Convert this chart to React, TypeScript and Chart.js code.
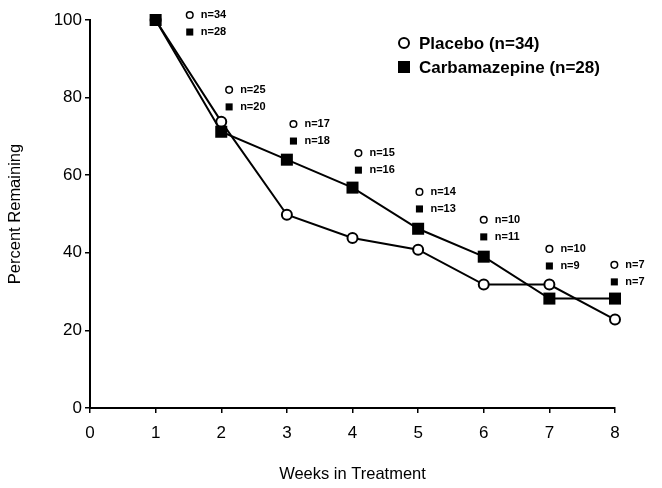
import React, { useEffect, useRef } from "react";
import { Chart, registerables } from "chart.js";

Chart.register(...registerables);

const weeks = [1, 2, 3, 4, 5, 6, 7, 8];
const placebo = [100, 73.8, 49.8, 43.8, 40.8, 31.8, 31.8, 22.8];
const carbamazepine = [100, 71.2, 64.0, 56.8, 46.2, 39.0, 28.2, 28.2];

// n= annotations per week
const placeboN = [34, 25, 17, 15, 14, 10, 10, 7];
const carbaN = [28, 20, 18, 16, 13, 11, 9, 7];
const annotX = [1.52, 2.12, 3.1, 4.09, 5.02, 6.0, 7.0, 7.99];
const annotCircleY = [101.3, 82.0, 73.2, 65.7, 55.7, 48.5, 41.0, 36.9];
const annotSquareY = [96.9, 77.6, 68.8, 61.3, 51.3, 44.1, 36.6, 32.5];

const xTicks = [0, 1, 2, 3, 4, 5, 6, 7, 8];
const yTicks = [0, 20, 40, 60, 80, 100];

const legendLabels = ["Placebo (n=34)", "Carbamazepine (n=28)"];

const FONT = "'Liberation Sans', Arial, Helvetica, sans-serif";

export default function App() {
  const ref = useRef<HTMLCanvasElement | null>(null);

  useEffect(() => {
    if (!ref.current) return;

    const annotPlugin = {
      id: "annotText",
      afterDatasetsDraw(chart: any) {
        const ctx = chart.ctx;
        const xs = chart.scales.x;
        const ys = chart.scales.y;
        ctx.save();
        ctx.fillStyle = "#000";
        ctx.font = `bold 11px ${FONT}`;
        ctx.textBaseline = "middle";
        ctx.textAlign = "left";
        for (let i = 0; i < annotX.length; i++) {
          const px = xs.getPixelForValue(annotX[i]) + 11;
          ctx.fillText(`n=${placeboN[i]}`, px, ys.getPixelForValue(annotCircleY[i]));
          ctx.fillText(`n=${carbaN[i]}`, px, ys.getPixelForValue(annotSquareY[i]));
        }
        // legend
        const lx = chart.chartArea.left + 314;
        const ly1 = chart.chartArea.top + 23;
        const ly2 = chart.chartArea.top + 47;
        ctx.lineWidth = 2;
        ctx.strokeStyle = "#000";
        ctx.fillStyle = "#fff";
        ctx.beginPath();
        ctx.arc(lx, ly1, 5, 0, Math.PI * 2);
        ctx.fill();
        ctx.stroke();
        ctx.fillStyle = "#000";
        ctx.fillRect(lx - 6, ly2 - 6, 12, 12);
        ctx.font = `bold 17px ${FONT}`;
        ctx.fillText(legendLabels[0], lx + 15, ly1 + 1);
        ctx.fillText(legendLabels[1], lx + 15, ly2 + 1);
        ctx.restore();
      },
    };

    const chart = new Chart(ref.current, {
      type: "line",
      data: {
        datasets: [
          {
            label: "Placebo (n=34)",
            data: weeks.map((w, i) => ({ x: w, y: placebo[i] })),
            borderColor: "#000",
            borderWidth: 2,
            backgroundColor: "#fff",
            pointStyle: "circle",
            pointRadius: 5,
            pointBorderWidth: 2,
            pointBackgroundColor: "#fff",
            pointBorderColor: "#000",
            tension: 0,
            clip: false,
            order: 2,
          },
          {
            label: "Carbamazepine (n=28)",
            data: weeks.map((w, i) => ({ x: w, y: carbamazepine[i] })),
            borderColor: "#000",
            borderWidth: 2,
            backgroundColor: "#000",
            pointStyle: "rect",
            pointRadius: 8.5,
            pointBorderWidth: 0,
            pointBackgroundColor: "#000",
            pointBorderColor: "#000",
            tension: 0,
            clip: false,
            order: 1,
          },
          {
            label: "placeboN",
            data: annotX.map((x, i) => ({ x, y: annotCircleY[i] })),
            showLine: false,
            pointStyle: "circle",
            pointRadius: 3.3,
            pointBorderWidth: 1.5,
            pointBackgroundColor: "#fff",
            pointBorderColor: "#000",
            clip: false,
            order: 0,
          },
          {
            label: "carbaN",
            data: annotX.map((x, i) => ({ x, y: annotSquareY[i] })),
            showLine: false,
            pointStyle: "rect",
            pointRadius: 5,
            pointBorderWidth: 0,
            pointBackgroundColor: "#000",
            pointBorderColor: "#000",
            clip: false,
            order: 0,
          },
        ],
      },
      options: {
        responsive: false,
        animation: false,
        events: [],
        layout: { padding: { left: 0, right: 47, top: 20, bottom: 0 } },
        plugins: {
          legend: { display: false },
          tooltip: { enabled: false },
          title: { display: false },
        },
        scales: {
          x: {
            type: "linear",
            min: 0,
            max: 8,
            afterBuildTicks: (s: any) => {
              s.ticks = xTicks.map((v) => ({ value: v }));
            },
            afterFit: (s: any) => {
              s.height = 80;
            },
            ticks: {
              color: "#000",
              font: { family: FONT, size: 17 },
              padding: 10,
            },
            grid: {
              display: true,
              drawOnChartArea: false,
              drawTicks: true,
              tickLength: 5,
              color: "#000",
              lineWidth: 1.5,
            },
            border: { display: true, color: "#000", width: 2 },
            title: {
              display: true,
              text: "Weeks in Treatment",
              color: "#000",
              font: { family: FONT, size: 16.5 },
              padding: { top: 0, bottom: 4 },
            },
          },
          y: {
            type: "linear",
            min: 0,
            max: 100,
            afterBuildTicks: (s: any) => {
              s.ticks = yTicks.map((v) => ({ value: v }));
            },
            afterFit: (s: any) => {
              s.width = 90;
            },
            ticks: {
              color: "#000",
              font: { family: FONT, size: 17 },
              padding: 3,
            },
            grid: {
              display: true,
              drawOnChartArea: false,
              drawTicks: true,
              tickLength: 5,
              color: "#000",
              lineWidth: 1.5,
            },
            border: { display: true, color: "#000", width: 2 },
            title: {
              display: true,
              text: "Percent Remaining",
              color: "#000",
              font: { family: FONT, size: 16.5 },
              padding: { top: 6, bottom: 0 },
            },
          },
        },
      },
      plugins: [annotPlugin],
    } as any);

    return () => chart.destroy();
  }, []);

  return (
    <div style={{ position: "fixed", left: 0, top: 0, width: 662, height: 488, background: "#fff" }}>
      <canvas ref={ref} width={662} height={488} style={{ display: "block" }} />
    </div>
  );
}
